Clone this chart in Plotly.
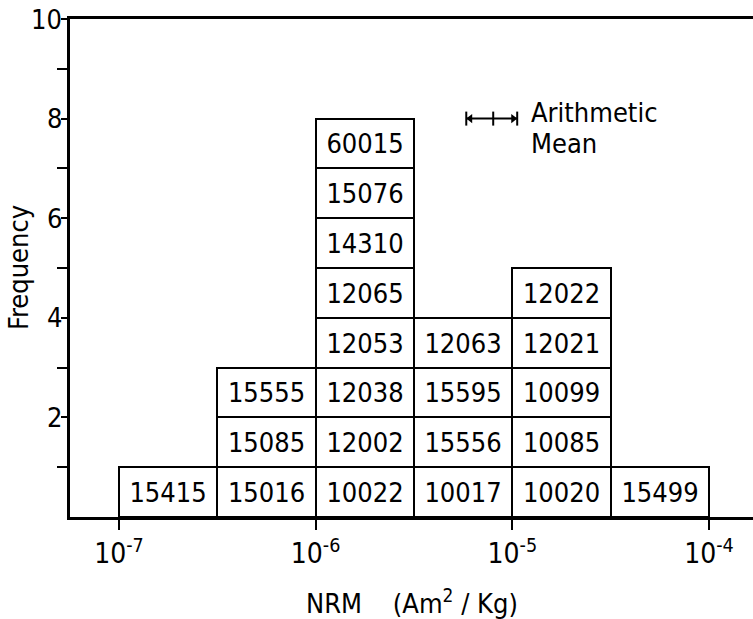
import plotly.graph_objects as go

# Bins in log10(NRM) units (half-decade bins)
bin_left = [-7.0, -6.5, -6.0, -5.5, -5.0, -4.5]
bin_width = 0.5
# Sample numbers stacked in each bin, bottom to top
bin_samples = [
    ["15415"],
    ["15016", "15085", "15555"],
    ["10022", "12002", "12038", "12053", "12065", "14310", "15076", "60015"],
    ["10017", "15556", "15595", "12063"],
    ["10020", "10085", "10099", "12021", "12022"],
    ["15499"],
]

x_tickvals = [-7, -6, -5, -4]
x_ticktext = ["10<sup>-7</sup>", "10<sup>-6</sup>", "10<sup>-5</sup>", "10<sup>-4</sup>"]
y_major_vals = [2, 4, 6, 8, 10]
y_major_text = ["2", "4", "6", "8", "10"]

# Arithmetic mean marker (log10 units) and its level on the frequency axis
mean_low = -5.234
mean_center = -5.097
mean_high = -4.975
mean_level = 8

FONT = "DejaVu Sans Condensed, Roboto, DejaVu Sans, sans-serif"
FS = 27

xs, bases, heights, texts = [], [], [], []
for left, samples in zip(bin_left, bin_samples):
    for i, s in enumerate(samples):
        xs.append(left + bin_width / 2)
        bases.append(i)
        heights.append(1)
        texts.append(s)

fig = go.Figure()
fig.add_trace(go.Bar(
    x=xs, y=heights, base=bases, width=bin_width, text=texts,
    textposition="inside", insidetextanchor="middle", textangle=0,
    textfont=dict(family=FONT, size=FS, color="black"),
    marker=dict(color="white", line=dict(color="black", width=2)),
    hoverinfo="skip", showlegend=False,
))

# Arithmetic mean symbol
fig.add_trace(go.Scatter(
    x=[mean_low, mean_high], y=[mean_level, mean_level], mode="lines",
    line=dict(color="black", width=2), showlegend=False, hoverinfo="skip",
))
fig.add_trace(go.Scatter(
    x=[mean_low, mean_center, mean_high], y=[mean_level] * 3, mode="markers",
    marker=dict(symbol="line-ns-open", size=10, color="black",
                line=dict(color="black", width=2)),
    showlegend=False, hoverinfo="skip",
))
fig.add_trace(go.Scatter(
    x=[mean_low + 0.02, mean_high - 0.02], y=[mean_level] * 2, mode="markers",
    marker=dict(symbol=["triangle-left", "triangle-right"], size=8, color="black"),
    showlegend=False, hoverinfo="skip",
))

fig.add_annotation(x=mean_high + 0.06, y=mean_level + 0.13, xref="x", yref="y",
                   text="Arithmetic", showarrow=False, xanchor="left", yanchor="middle",
                   font=dict(family=FONT, size=FS, color="black"))
fig.add_annotation(x=mean_high + 0.06, y=mean_level - 0.5, xref="x", yref="y",
                   text="Mean", showarrow=False, xanchor="left", yanchor="middle",
                   font=dict(family=FONT, size=FS, color="black"))

# Y tick labels placed close to the ticks
for v, t in zip(y_major_vals, y_major_text):
    fig.add_annotation(x=-0.009, y=v, xref="paper", yref="y", text=t,
                       showarrow=False, xanchor="right", yanchor="middle",
                       font=dict(family=FONT, size=FS, color="black"))

# Axis titles
fig.add_annotation(x=-0.076, y=0.5, xref="paper", yref="paper", text="Frequency",
                   textangle=-90, showarrow=False, xanchor="center", yanchor="middle",
                   font=dict(family=FONT, size=FS, color="black"))
fig.add_annotation(x=0.5, y=-0.17, xref="paper", yref="paper",
                   text="NRM\u00a0\u00a0\u00a0\u00a0(Am<sup>2</sup> / Kg)",
                   showarrow=False, xanchor="center", yanchor="middle",
                   font=dict(family=FONT, size=FS, color="black"))

fig.update_layout(
    width=753, height=619,
    margin=dict(l=70, r=0, t=19, b=102),
    paper_bgcolor="white", plot_bgcolor="white",
    barmode="overlay", bargap=0,
    font=dict(family=FONT, size=FS, color="black"),
    xaxis=dict(
        range=[-7.249, -3.776], showgrid=False, zeroline=False,
        showline=True, linecolor="black", linewidth=2.5, mirror=True,
        tickmode="array", tickvals=x_tickvals, ticktext=x_ticktext,
        ticks="outside", ticklen=10, tickwidth=2, tickcolor="black",
        tickfont=dict(family=FONT, size=FS + 1, color="black"),
    ),
    yaxis=dict(
        range=[0, 10], showgrid=False, zeroline=False,
        showline=True, linecolor="black", linewidth=2.5,
        tickmode="array", tickvals=y_major_vals, showticklabels=False,
        ticks="outside", ticklen=6, tickwidth=2, tickcolor="black",
        minor=dict(tickvals=[1, 3, 5, 7, 9], ticks="outside", ticklen=10,
                   tickwidth=2, tickcolor="black", showgrid=False),
    ),
)

fig.write_html("out.html")
